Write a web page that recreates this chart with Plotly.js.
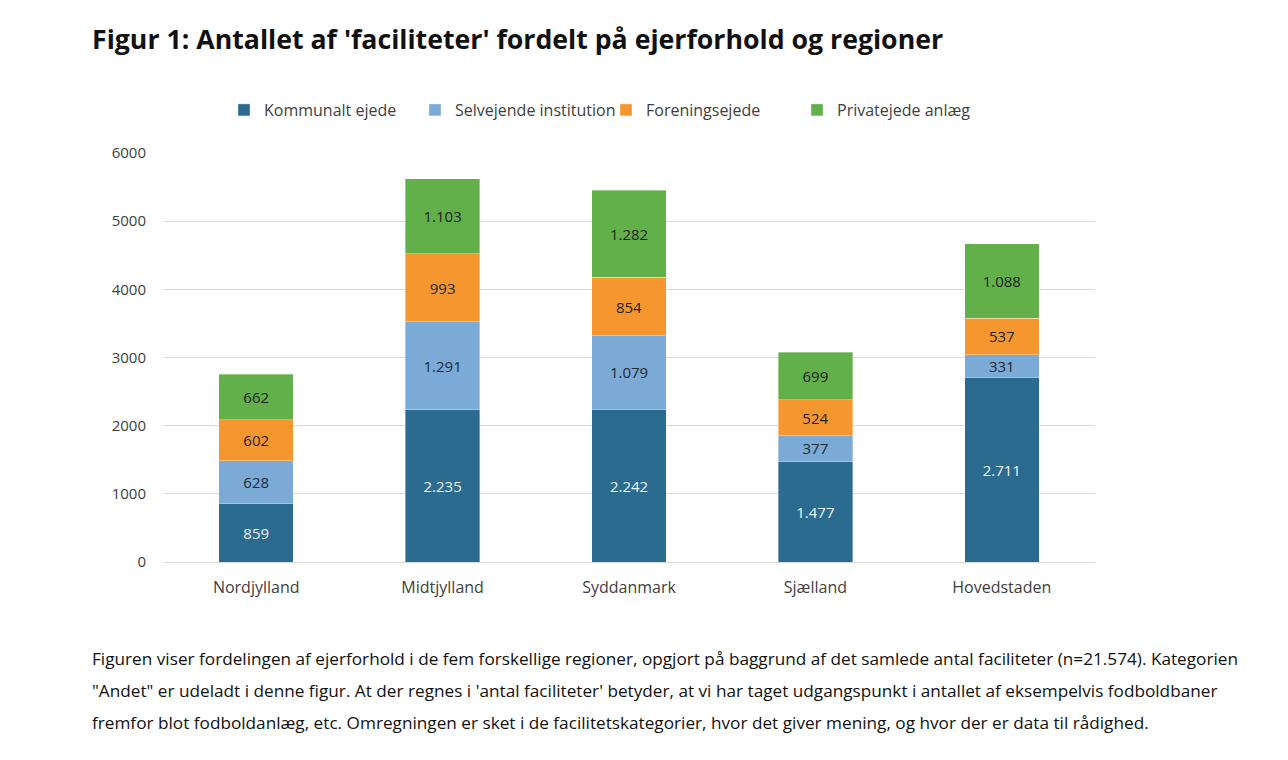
<!DOCTYPE html>
<html>
<head>
<meta charset="utf-8">
<script src="https://cdn.plot.ly/plotly-3.0.1.min.js"></script>
<style>
  html, body { margin: 0; padding: 0; background: #ffffff; }
  #chart { width: 1288px; height: 760px; }
</style>
</head>
<body>
<div id="chart"></div>
<script>
const regions = ['Nordjylland', 'Midtjylland', 'Syddanmark', 'Sjælland', 'Hovedstaden'];
const kommunalt = [859, 2235, 2242, 1477, 2711];
const selvejende = [628, 1291, 1079, 377, 331];
const forening = [602, 993, 854, 524, 537];
const privat = [662, 1103, 1282, 699, 1088];

const seriesNames = ['Kommunalt ejede', 'Selvejende institution', 'Foreningsejede', 'Privatejede anlæg'];
const seriesColors = ['#2c6b90', '#7aaad5', '#f5962f', '#62b04a'];
const textColors = ['#eef3f7', '#1f2a33', '#1f1f1f', '#1f1f1f'];

const captionLines = [
  'Figuren viser fordelingen af ejerforhold i de fem forskellige regioner, opgjort på baggrund af det samlede antal faciliteter (n=21.574). Kategorien',
  '"Andet" er udeladt i denne figur. At der regnes i \'antal faciliteter\' betyder, at vi har taget udgangspunkt i antallet af eksempelvis fodboldbaner',
  'fremfor blot fodboldanlæg, etc. Omregningen er sket i de facilitetskategorier, hvor det giver mening, og hvor der er data til rådighed.'
];

const chartFont = 'Open Sans, Noto Sans, sans-serif';
const values = [kommunalt, selvejende, forening, privat];

const traces = values.map((v, i) => ({
  type: 'bar',
  name: seriesNames[i],
  x: regions,
  y: v,
  marker: { color: seriesColors[i], line: { color: 'rgba(255,255,255,0.6)', width: 0.6 } },
  texttemplate: '%{y:,}',
  textposition: 'inside',
  insidetextanchor: 'middle',
  textangle: 0,
  constraintext: 'none',
  insidetextfont: { family: chartFont, size: 15, color: textColors[i] },
  hoverinfo: 'x+y+name'
}));

const plotW = 1095 - 163;
const plotH = 562 - 153;

const annotations = [
  {
    text: "Figur 1: Antallet af 'faciliteter' fordelt på ejerforhold og regioner",
    xref: 'paper', yref: 'paper',
    x: (90 - 163) / plotW, y: 1 + (153 - 38) / plotH,
    xanchor: 'left', yanchor: 'middle', showarrow: false,
    font: { family: 'Open Sans, sans-serif', size: 26.7, color: '#111111', weight: 'bold' }
  }
];
captionLines.forEach((t, i) => {
  annotations.push({
    text: t,
    xref: 'paper', yref: 'paper',
    x: (90 - 163) / plotW, y: -(658 + 32 * i - 562) / plotH,
    xanchor: 'left', yanchor: 'middle', showarrow: false,
    font: { family: 'Open Sans, sans-serif', size: 17.2, color: '#111111' }
  });
});

const layout = {
  width: 1288, height: 760,
  margin: { l: 163, r: 193, t: 153, b: 198 },
  paper_bgcolor: '#ffffff', plot_bgcolor: '#ffffff',
  barmode: 'stack',
  bargap: 0.6,
  separators: ',.',
  showlegend: true,
  legend: {
    orientation: 'h', x: (224 - 163) / plotW, y: 1 + 43 / plotH,
    xanchor: 'left', yanchor: 'middle',
    font: { family: chartFont, size: 16, color: '#404040' },
    traceorder: 'normal', itemwidth: 30,
    entrywidth: 146, entrywidthmode: 'pixels'
  },
  uniformtext: { minsize: 15, mode: 'show' },
  xaxis: {
    type: 'category', showgrid: false, showline: false, zeroline: false,
    ticks: '', tickfont: { family: chartFont, size: 16, color: '#404040' },
    ticklabelstandoff: 14
  },
  yaxis: {
    range: [0, 6000], dtick: 1000, tick0: 0,
    showgrid: true, gridcolor: '#d9d9d9', gridwidth: 1,
    zeroline: true, zerolinecolor: '#d9d9d9', zerolinewidth: 1,
    showline: false, ticks: '', tickformat: 'd',
    tickfont: { family: chartFont, size: 15, color: '#404040' },
    ticklabelstandoff: 16
  },
  annotations: annotations
};

Plotly.newPlot('chart', traces, layout, { displayModeBar: false, staticPlot: false });
</script>
</body>
</html>
